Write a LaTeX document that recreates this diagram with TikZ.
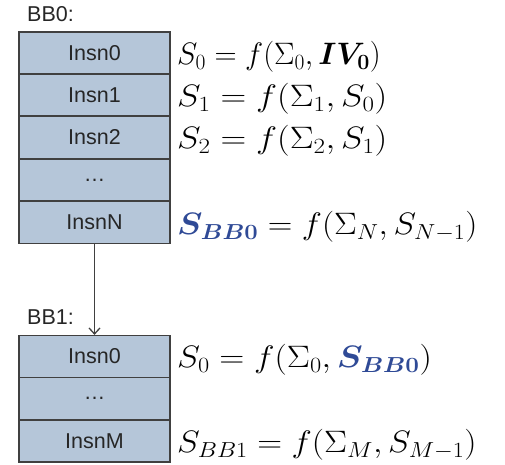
\RequirePackage{fix-cm}
\documentclass[tikz,border=0pt]{standalone}
\usepackage{amsmath,amssymb,graphicx}
\usepackage{fontspec}
\setmainfont{Liberation Sans}
\usetikzlibrary{arrows.meta}
\definecolor{cellfill}{HTML}{B5C6D9}
\definecolor{eqblue}{HTML}{2F4A96}
\definecolor{edge}{HTML}{404040}
\newcommand{\wideeq}[2]{\scalebox{#1}[1]{$#2$}}
\tikzset{
  cell/.style={draw=edge, line width=1.2pt, fill=cellfill, minimum width=151pt, minimum height=42pt, inner sep=0pt, font=\fontsize{21.5}{24}\selectfont, text=black!85},
  eq/.style={anchor=west, inner sep=0pt, font=\fontsize{31}{34}\selectfont},
  lbl/.style={anchor=west, inner sep=0pt, font=\fontsize{21.5}{24}\selectfont, text=black!85},
  conn/.style={draw=edge, line width=1.3pt, -{Straight Barb[length=6pt,width=11pt]}}
}
\begin{document}
\begin{tikzpicture}[x=1pt,y=-1pt]
\useasboundingbox (0,0) rectangle (505,464);
\node[lbl] (l0) at (27,14) {BB0:};
\node[cell] (a0) at (94.5,53) {Insn0};
\node[cell] (a1) at (94.5,95) {Insn1};
\node[cell] (a2) at (94.5,137.5) {Insn2};
\node[cell] (a3) at (94.5,180) {\dots};
\node[cell] (a4) at (94.5,222.5) {InsnN};
\node[lbl] (l1) at (27,317) {BB1:};
\node[cell] (b0) at (94.5,356.5) {Insn0};
\node[cell] (b1) at (94.5,398.5) {\dots};
\node[cell] (b2) at (94.5,441) {InsnM};
\draw[conn] (a4.south) -- (b0.north);
\node[eq] (e0) at (177,57) {\wideeq{0.99}{S_0 = f(\Sigma_0, \boldsymbol{IV_0})}};
\node[eq] (e1) at (177,99) {\wideeq{1.15}{S_1 = f(\Sigma_1, S_0)}};
\node[eq] (e2) at (177,141) {\wideeq{1.15}{S_2 = f(\Sigma_2, S_1)}};
\node[eq] (e4) at (177,227) {\wideeq{1.1}{\color{eqblue}\boldsymbol{S_{BB0}}\color{black} = f(\Sigma_N, S_{N-1})}};
\node[eq] (f0) at (177,360) {\wideeq{1.12}{S_0 = f(\Sigma_0, \color{eqblue}\boldsymbol{S_{BB0}}\color{black})}};
\node[eq] (f2) at (177,445) {\wideeq{1.11}{S_{BB1} = f(\Sigma_M, S_{M-1})}};
\end{tikzpicture}
\end{document}
